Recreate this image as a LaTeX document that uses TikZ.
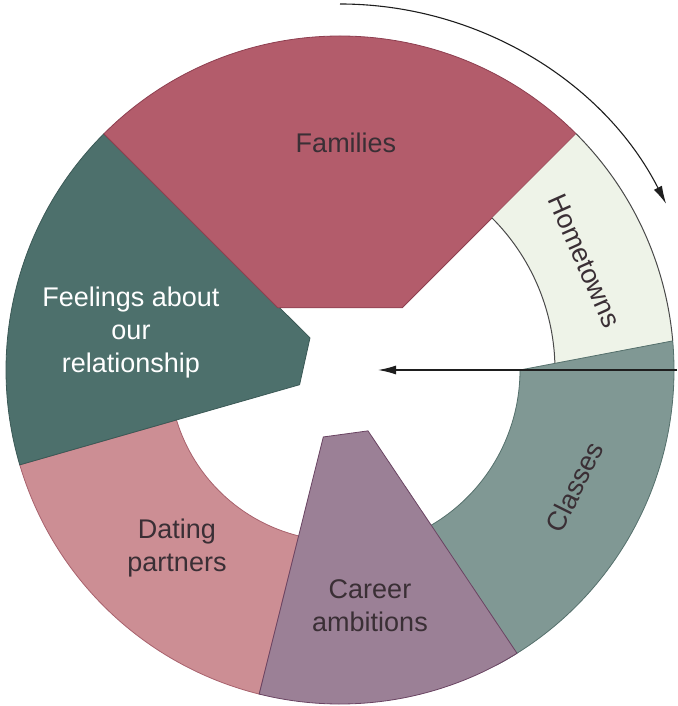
\documentclass[tikz,border=0pt]{standalone}
\usepackage{fontspec}
\setmainfont{Liberation Sans}
\usetikzlibrary{arrows.meta}

\definecolor{famfill}{HTML}{B35C6B}
\definecolor{famdraw}{HTML}{8E3F50}
\definecolor{homefill}{HTML}{EEF3E8}
\definecolor{homedraw}{HTML}{4A4A4A}
\definecolor{clsfill}{HTML}{809894}
\definecolor{clsdraw}{HTML}{55706C}
\definecolor{carfill}{HTML}{9B8096}
\definecolor{cardraw}{HTML}{6A4462}
\definecolor{datfill}{HTML}{CC8E94}
\definecolor{datdraw}{HTML}{A8626D}
\definecolor{feelfill}{HTML}{4D706C}
\definecolor{feeldraw}{HTML}{3B5956}
\definecolor{labeltext}{HTML}{3A2F35}
\definecolor{arrowline}{HTML}{1E1E1E}

\begin{document}
\begin{tikzpicture}[x=1pt,y=1pt,>={Latex[length=18pt,width=9pt]},
    lbl/.style={font=\fontsize{27}{33}\selectfont,align=center,text=labeltext}]
    \useasboundingbox (-340,-336) rectangle (337,370);

    \coordinate (rim) at (0:337pt);
    \coordinate (core) at (0:38pt);
    \coordinate (arcstart) at (90:366pt);

    % Dating partners
    \filldraw[fill=datfill,draw=datdraw,line width=0.8pt] (197:171pt) -- (196.5:334pt)
        arc[start angle=196.5,end angle=256,radius=334pt] -- (256:171pt)
        arc[start angle=256,end angle=197,radius=171pt] -- cycle;
    % Feelings
    \filldraw[fill=feelfill,draw=feeldraw,line width=0.8pt] (133:44pt) -- (135:334pt)
        arc[start angle=135,end angle=196.5,radius=334pt] -- (200:43pt) -- cycle;
    % Families
    \filldraw[fill=famfill,draw=famdraw,line width=0.8pt] (135:88pt) -- (135:334pt)
        arc[start angle=135,end angle=45,radius=334pt] -- (45:88pt) -- cycle;
    % Hometowns
    \fill[homefill] (45:215pt) -- (45:334pt)
        arc[start angle=45,end angle=0,radius=334pt] -- (0:215pt)
        arc[start angle=0,end angle=45,radius=215pt] -- cycle;
    \draw[homedraw,line width=1pt] (45:334pt) arc[start angle=45,end angle=5,radius=334pt];
    \draw[homedraw,line width=1pt] (45:215pt) arc[start angle=45,end angle=1.8,radius=215pt];
    % Classes (runs on under the career segment)
    \filldraw[fill=clsfill,draw=clsdraw,line width=0.8pt] (0:180pt) -- (5:334pt)
        arc[start angle=5,end angle=-62,radius=334pt] -- (-62:180pt)
        arc[start angle=-62,end angle=0,radius=180pt] -- cycle;
    % Career ambitions
    \filldraw[fill=carfill,draw=cardraw,line width=0.8pt] (256:69pt) -- (256:334pt)
        arc[start angle=256,end angle=302,radius=334pt] -- (294.7:67pt) -- cycle;

    \node[lbl] (families) at (6,227) {Families};
    \node[lbl,rotate=-66] (hometowns) at (24:268pt) {Hometowns};
    \node[lbl,rotate=63.5] (classes) at (-26.5:262pt) {Classes};
    \node[lbl,text=white] (feelings) at (-209,37) {Feelings about\\our\\relationship};
    \node[lbl] (dating) at (-163,-178) {Dating\\partners};
    \node[lbl] (career) at (30,-236) {Career\\ambitions};

    % depth
    \draw[->,arrowline,line width=1.4pt] (rim) -- (core);
    % breadth
    \draw[->,arrowline,line width=1.1pt] (arcstart) arc[start angle=90,end angle=27,radius=366pt];
\end{tikzpicture}
\end{document}
